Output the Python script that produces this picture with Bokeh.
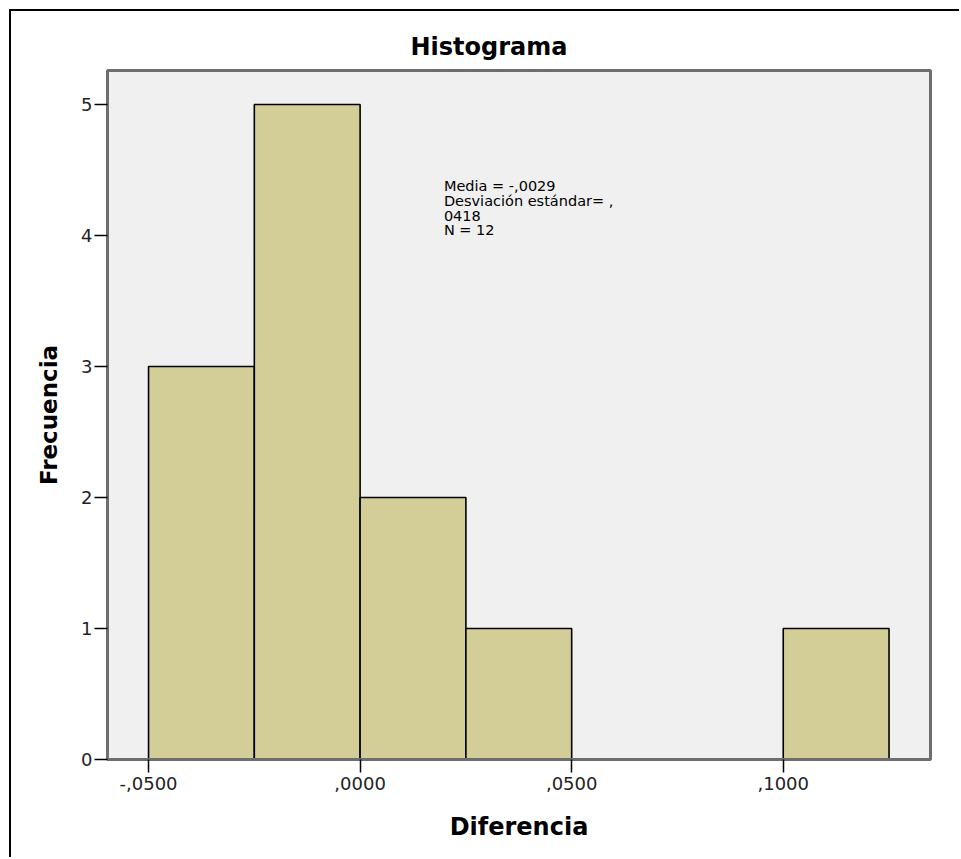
from bokeh.plotting import figure
from bokeh.models import FixedTicker, Label, Range1d
from bokeh.embed import file_html
from bokeh.resources import INLINE

# Data
bin_left = [-0.050, -0.025, 0.000, 0.025, 0.100]
bin_right = [-0.025, 0.000, 0.025, 0.050, 0.125]
counts = [3, 5, 2, 1, 1]
x_ticks = [-0.05, 0.0, 0.05, 0.10]
x_tick_labels = ["-,0500", ",0000", ",0500", ",1000"]
y_ticks = [0, 1, 2, 3, 4, 5]
stats_lines = ["Media = -,0029", "Desviación estándar= ,", "0418", "N = 12"]

FONT = "DejaVu Sans"

p = figure(width=950, height=848, output_backend="svg", toolbar_location=None,
           x_range=Range1d(-0.0597, 0.1348), y_range=Range1d(0, 5.26),
           title="Histograma", min_border_left=96, min_border_right=31,
           min_border_top=59, min_border_bottom=100)
p.margin = (9, 0, 0, 9)
p.styles = {"border-left": "2px solid black", "border-top": "2px solid black"}

p.background_fill_color = "#F0F0F0"
p.border_fill_color = "white"
p.outline_line_color = "#6E6E6E"
p.outline_line_width = 3
p.xgrid.visible = False
p.ygrid.visible = False

p.quad(left=bin_left, right=bin_right, bottom=0, top=counts,
       fill_color="#D3CE97", line_color="black", line_width=1.6)

p.title.align = "left"
p.title.offset = 303
p.title.text_font = FONT
p.title.text_font_size = "24px"
p.title.text_font_style = "bold"
p.title.text_color = "black"
p.title.standoff = 20

for ax in (p.xaxis[0], p.yaxis[0]):
    ax.axis_line_color = "#6E6E6E"
    ax.axis_line_width = 3
    ax.major_tick_line_color = "black"
    ax.major_tick_line_width = 1.5
    ax.minor_tick_line_color = None
    ax.major_tick_in = 0
    ax.major_label_text_font = FONT
    ax.major_label_text_font_size = "18px"
    ax.major_label_text_color = "#222222"
    ax.axis_label_text_font = FONT
    ax.axis_label_text_font_style = "bold"
    ax.axis_label_text_color = "black"

p.xaxis.ticker = FixedTicker(ticks=x_ticks)
p.xaxis.major_label_overrides = {t: l for t, l in zip(x_ticks, x_tick_labels)}
p.xaxis.major_tick_out = 13
p.xaxis.major_label_standoff = 4
p.xaxis.axis_label = "Diferencia"
p.xaxis.axis_label_text_font_size = "24px"
p.xaxis.axis_label_standoff = 20

p.yaxis.ticker = FixedTicker(ticks=y_ticks)
p.yaxis.major_tick_out = 13
p.yaxis.major_label_standoff = 2
p.yaxis.axis_label = "Frecuencia"
p.yaxis.axis_label_text_font_size = "23px"
p.yaxis.axis_label_standoff = 16

line_y = [4.382, 4.267, 4.153, 4.046]
for txt, yy in zip(stats_lines, line_y):
    p.add_layout(Label(x=0.0198, y=yy, text=txt, text_font=FONT,
                       text_font_size="14.5px", text_color="black",
                       text_baseline="middle"))

open("out.html", "w").write(file_html(p, INLINE))
